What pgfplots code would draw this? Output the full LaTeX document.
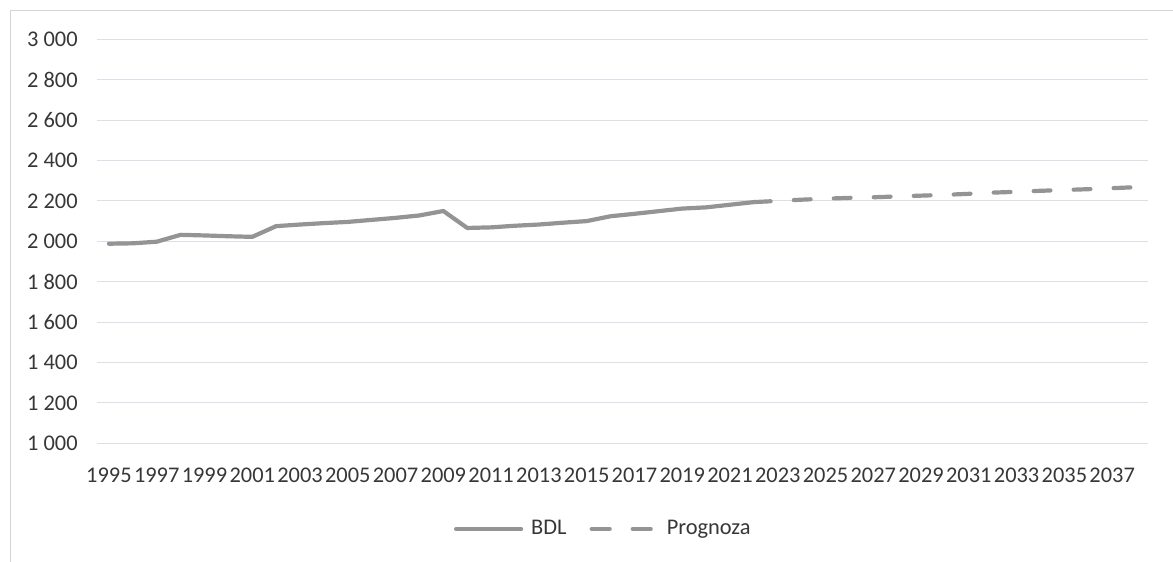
\documentclass[border=0pt]{standalone}
\usepackage{fontspec}
\setmainfont{Carlito}
\usepackage{pgfplots}
\pgfplotsset{compat=1.18}

\definecolor{txt}{RGB}{55,55,55}
\definecolor{gridc}{RGB}{222,222,232}
\definecolor{ln}{RGB}{148,148,148}
\definecolor{framec}{RGB}{212,212,212}

\pgfplotsset{
  legsolid/.style={legend image code/.code={\draw[##1] (0pt,0pt) -- (32.5pt,0pt);}},
  legdash/.style={legend image code/.code={\draw[##1, dash pattern=on 9pt off 11.5pt] (0pt,0pt) -- (32.5pt,0pt);}},
}

\begin{document}
\fontsize{11.2}{13}\selectfont
\begin{tikzpicture}
\useasboundingbox (-48.5pt,-59.35pt) rectangle (538pt,221.65pt);
% chart frame (left and top edges visible in the scan)
\draw[framec, line width=0.5pt] (-43pt,-60pt) -- (-43pt,216.15pt) -- (540pt,216.15pt);
\begin{axis}[
  scale only axis,
  width=525.5pt, height=202pt,
  xmin=1994.5, xmax=2038.5,
  ymin=1000, ymax=3000,
  axis line style={draw=none},
  major tick length=0pt,
  ymajorgrids,
  grid style={gridc, line width=0.5pt},
  ytick={1000,1200,...,3000},
  yticklabels={1 000,1 200,1 400,1 600,1 800,2 000,2 200,2 400,2 600,2 800,3 000},
  xtick={1995,1997,...,2037},
  xticklabels={1995,1997,1999,2001,2003,2005,2007,2009,2011,2013,2015,2017,2019,2021,2023,2025,2027,2029,2031,2033,2035,2037},
  xticklabel style={anchor=base, inner sep=0pt, yshift=-19.85pt, text=txt},
  yticklabel style={anchor=east, inner sep=0pt, xshift=-9.5pt, text=txt},
  clip=false,
  legend columns=2,
  legend style={draw=none, fill=none, at={(0.3397,-0.2121)}, anchor=west,
    inner sep=0pt, outer sep=0pt,
    nodes={inner sep=0pt, text=txt},
    /tikz/every odd column/.append style={column sep=4pt},
    /tikz/every even column/.append style={column sep=11.5pt}},
]
\addplot[ln, line width=2.1pt, line cap=round, line join=round, legsolid]
  coordinates {
  (1995,1988) (1996,1990) (1997,1998) (1998,2032) (1999,2029) (2000,2025)
  (2001,2022) (2002,2075) (2003,2083) (2004,2090) (2005,2096) (2006,2106)
  (2007,2116) (2008,2128) (2009,2150) (2010,2066) (2011,2069) (2012,2077)
  (2013,2083) (2014,2092) (2015,2100) (2016,2124) (2017,2136) (2018,2149)
  (2019,2162) (2020,2168) (2021,2181) (2022,2194)
  };
\addplot[ln, line width=2.1pt, line cap=round, line join=round,
  dash pattern=on 8.4pt off 11.6pt, legdash]
  coordinates {
  (2022,2194) (2023,2200) (2024,2206) (2025,2211) (2026,2215) (2027,2218)
  (2028,2222) (2029,2226) (2030,2230) (2031,2235) (2032,2241) (2033,2245)
  (2034,2250) (2035,2254) (2036,2258) (2037,2263) (2038,2268)
  };
\legend{BDL, Prognoza}
\end{axis}
\end{tikzpicture}
\end{document}
